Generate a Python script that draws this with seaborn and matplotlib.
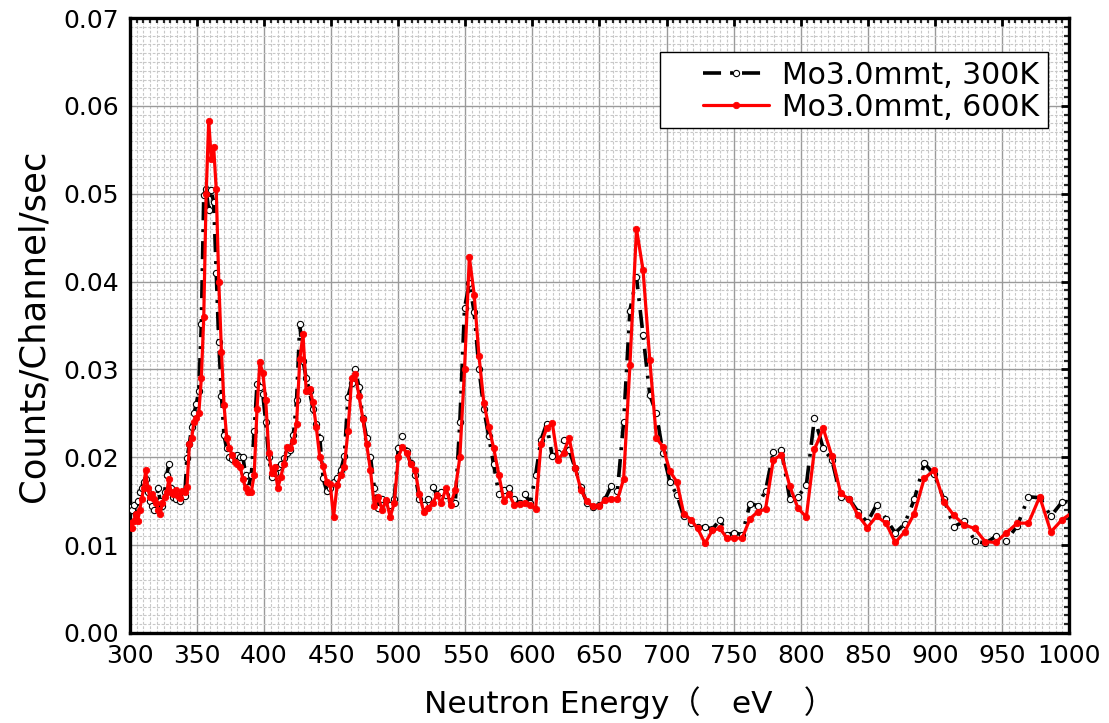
import matplotlib
matplotlib.use("Agg")
import matplotlib.pyplot as plt
from matplotlib.patches import Rectangle
from matplotlib.ticker import MultipleLocator, FormatStrFormatter
import numpy as np
import pandas as pd
import seaborn as sns

# energy of each time-of-flight channel (eV)
energy = [
    300.0, 301.4, 302.9, 304.3, 305.8, 307.2, 308.7, 310.2, 311.7, 313.3,
    314.8, 316.3, 317.9, 319.4, 321.0, 322.5, 324.2, 325.8, 327.4, 329.0,
    330.6, 332.3, 334.0, 335.7, 337.3, 339.0, 340.8, 342.5, 344.3, 346.0,
    347.7, 349.5, 351.3, 353.2, 355.0, 356.8, 358.7, 360.6, 362.4, 364.3,
    366.2, 368.2, 370.1, 372.1, 374.1, 376.0, 378.1, 380.1, 382.2, 384.2,
    386.2, 388.3, 390.5, 392.6, 394.7, 396.8, 399.0, 401.2, 403.5, 405.7,
    407.9, 410.2, 412.5, 414.8, 417.1, 419.4, 421.8, 424.2, 426.6, 429.0,
    431.4, 433.9, 436.4, 438.9, 441.5, 444.0, 446.6, 449.2, 451.8, 454.4,
    457.1, 459.8, 462.5, 465.3, 468.0, 470.7, 473.6, 476.4, 479.3, 482.2,
    485.1, 488.0, 491.0, 494.0, 497.0, 500.0, 503.1, 506.2, 509.4, 512.5,
    515.7, 519.0, 522.3, 525.6, 528.8, 532.1, 535.6, 539.0, 542.5, 545.9,
    549.4, 553.0, 556.6, 560.2, 563.8, 567.4, 571.2, 575.0, 578.8, 582.6,
    586.4, 590.4, 594.4, 598.4, 602.4, 606.4, 610.6, 614.8, 619.0, 623.2,
    627.4, 631.8, 636.2, 640.6, 645.0, 649.4, 654.1, 658.7, 663.4, 668.0,
    672.7, 677.6, 682.5, 687.5, 692.4, 697.3, 702.5, 707.7, 712.8, 718.0,
    723.2, 728.7, 734.2, 739.7, 745.1, 750.6, 756.4, 762.2, 768.0, 773.8,
    779.6, 785.7, 791.9, 798.0, 804.2, 810.3, 816.8, 823.3, 829.8, 836.3,
    842.8, 849.7, 856.6, 863.6, 870.5, 877.4, 884.7, 892.1, 899.4, 906.8,
    914.1, 921.9, 929.7, 937.5, 945.4, 953.2, 961.5, 969.8, 978.2, 986.5,
    994.8, 1003.4,
]

counts_300k = [
    0.0143, 0.0140, 0.0146, 0.0135, 0.0150, 0.0160, 0.0165, 0.0172, 0.0175, 0.0160,
    0.0150, 0.0145, 0.0140, 0.0150, 0.0165, 0.0150, 0.0145, 0.0160, 0.0180, 0.0192,
    0.0165, 0.0155, 0.0152, 0.0158, 0.0150, 0.0158, 0.0156, 0.0199, 0.0215, 0.0235,
    0.0250, 0.0261, 0.0276, 0.0352, 0.0498, 0.0505, 0.0481, 0.0504, 0.0490, 0.0410,
    0.0331, 0.0270, 0.0225, 0.0210, 0.0200, 0.0198, 0.0202, 0.0203, 0.0200, 0.0200,
    0.0180, 0.0166, 0.0180, 0.0230, 0.0283, 0.0280, 0.0272, 0.0240, 0.0200, 0.0178,
    0.0182, 0.0189, 0.0192, 0.0199, 0.0205, 0.0208, 0.0225, 0.0265, 0.0352, 0.0310,
    0.0290, 0.0275, 0.0255, 0.0238, 0.0222, 0.0176, 0.0162, 0.0165, 0.0172, 0.0176,
    0.0185, 0.0201, 0.0269, 0.0285, 0.0300, 0.0280, 0.0245, 0.0222, 0.0200, 0.0165,
    0.0142, 0.0153, 0.0150, 0.0146, 0.0152, 0.0210, 0.0224, 0.0207, 0.0193, 0.0180,
    0.0153, 0.0146, 0.0152, 0.0166, 0.0158, 0.0161, 0.0157, 0.0150, 0.0148, 0.0240,
    0.0370, 0.0398, 0.0365, 0.0300, 0.0255, 0.0224, 0.0192, 0.0158, 0.0163, 0.0165,
    0.0152, 0.0148, 0.0158, 0.0148, 0.0180, 0.0220, 0.0238, 0.0201, 0.0205, 0.0220,
    0.0208, 0.0188, 0.0166, 0.0148, 0.0143, 0.0146, 0.0152, 0.0167, 0.0162, 0.0240,
    0.0367, 0.0405, 0.0339, 0.0271, 0.0250, 0.0205, 0.0172, 0.0157, 0.0133, 0.0125,
    0.0121, 0.0121, 0.0118, 0.0129, 0.0112, 0.0114, 0.0112, 0.0147, 0.0145, 0.0162,
    0.0206, 0.0208, 0.0152, 0.0155, 0.0168, 0.0245, 0.0210, 0.0197, 0.0155, 0.0152,
    0.0138, 0.0126, 0.0146, 0.0130, 0.0114, 0.0124, 0.0152, 0.0193, 0.0181, 0.0152,
    0.0121, 0.0127, 0.0105, 0.0102, 0.0110, 0.0105, 0.0122, 0.0155, 0.0154, 0.0133,
    0.0149, 0.0150,
]

counts_600k = [
    0.0125, 0.0120, 0.0128, 0.0135, 0.0128, 0.0140, 0.0152, 0.0165, 0.0185, 0.0165,
    0.0155, 0.0158, 0.0152, 0.0148, 0.0140, 0.0136, 0.0148, 0.0155, 0.0160, 0.0175,
    0.0160, 0.0158, 0.0163, 0.0156, 0.0154, 0.0162, 0.0160, 0.0166, 0.0215, 0.0222,
    0.0240, 0.0245, 0.0250, 0.0290, 0.0360, 0.0500, 0.0583, 0.0540, 0.0553, 0.0505,
    0.0400, 0.0320, 0.0260, 0.0222, 0.0211, 0.0203, 0.0195, 0.0192, 0.0189, 0.0175,
    0.0165, 0.0161, 0.0161, 0.0180, 0.0255, 0.0308, 0.0296, 0.0265, 0.0205, 0.0182,
    0.0189, 0.0165, 0.0178, 0.0192, 0.0212, 0.0210, 0.0218, 0.0238, 0.0312, 0.0340,
    0.0275, 0.0278, 0.0263, 0.0234, 0.0200, 0.0190, 0.0172, 0.0170, 0.0132, 0.0168,
    0.0180, 0.0189, 0.0230, 0.0290, 0.0295, 0.0270, 0.0244, 0.0215, 0.0185, 0.0144,
    0.0155, 0.0140, 0.0151, 0.0132, 0.0148, 0.0200, 0.0212, 0.0205, 0.0192, 0.0185,
    0.0158, 0.0138, 0.0142, 0.0148, 0.0157, 0.0148, 0.0165, 0.0146, 0.0163, 0.0200,
    0.0300, 0.0428, 0.0385, 0.0315, 0.0262, 0.0235, 0.0210, 0.0180, 0.0150, 0.0158,
    0.0146, 0.0147, 0.0148, 0.0146, 0.0141, 0.0215, 0.0233, 0.0239, 0.0197, 0.0205,
    0.0222, 0.0188, 0.0163, 0.0150, 0.0144, 0.0145, 0.0151, 0.0153, 0.0152, 0.0175,
    0.0305, 0.0460, 0.0413, 0.0311, 0.0222, 0.0212, 0.0184, 0.0172, 0.0136, 0.0129,
    0.0119, 0.0102, 0.0117, 0.0119, 0.0108, 0.0108, 0.0108, 0.0130, 0.0138, 0.0141,
    0.0197, 0.0203, 0.0167, 0.0142, 0.0132, 0.0209, 0.0233, 0.0201, 0.0159, 0.0152,
    0.0134, 0.0120, 0.0133, 0.0125, 0.0103, 0.0115, 0.0136, 0.0176, 0.0185, 0.0149,
    0.0134, 0.0123, 0.0119, 0.0104, 0.0103, 0.0114, 0.0125, 0.0125, 0.0155, 0.0115,
    0.0129, 0.0138,
]

series_labels = ["Mo3.0mmt, 300K", "Mo3.0mmt, 600K"]
x_ticks = np.arange(300, 1001, 50)
y_ticks = np.arange(0.0, 0.0701, 0.01)

df = pd.DataFrame({"energy": energy, "c300": counts_300k, "c600": counts_600k})

sns.set_style("white")
plt.rcParams["font.family"] = ["DejaVu Sans", "Noto Sans CJK JP"]
plt.rcParams["text.color"] = "black"
plt.rcParams["axes.labelcolor"] = "black"

fig = plt.figure(figsize=(11.09, 7.23), dpi=100)
ax = fig.add_axes([0.1172, 0.1245, 0.8467, 0.8506])

sns.lineplot(data=df, x="energy", y="c300", ax=ax, sort=False, color="black",
             linewidth=2.6, linestyle=(0, (5, 2.5, 0.8, 2.5)),
             marker="o", markersize=4.5, markerfacecolor="white",
             markeredgecolor="black", markeredgewidth=0.8,
             label=series_labels[0], zorder=3)
sns.lineplot(data=df, x="energy", y="c600", ax=ax, sort=False, color="#ff0000",
             linewidth=2.3, marker="o", markersize=4.6, markerfacecolor="#ff0000",
             markeredgecolor="#ff0000", markeredgewidth=0.6,
             label=series_labels[1], zorder=4)

ax.set_xlim(300, 1000)
ax.set_ylim(0, 0.07)
ax.set_xticks(x_ticks)
ax.set_yticks(y_ticks)
ax.yaxis.set_major_formatter(FormatStrFormatter("%.2f"))
ax.xaxis.set_minor_locator(MultipleLocator(5))
ax.yaxis.set_minor_locator(MultipleLocator(0.001))

ax.grid(which="major", color="#9a9a9a", linewidth=1.0, linestyle="-")
ax.grid(which="minor", color="#c8c8c8", linewidth=0.8, linestyle=(0, (2.5, 1.5)))
ax.set_axisbelow(True)

for s in ax.spines.values():
    s.set_linewidth(2.4)
    s.set_color("black")
ax.tick_params(which="major", direction="in", length=6, width=2.0,
               top=True, right=True, labelsize=18, pad=8, colors="black")
ax.tick_params(which="minor", direction="in", length=3.5, width=1.6,
               top=True, right=True)

ax.set_xlabel("Neutron Energy（\u3000eV\u3000）", fontsize=22.5)
ax.xaxis.set_label_coords(0.532, -0.087)
ax.set_ylabel("Counts/Channel/sec", fontsize=25.5, labelpad=9)

# legend box drawn separately so its left margin matches the original
ax.add_patch(Rectangle((0.5644, 0.8211), 0.4132, 0.1236, transform=ax.transAxes,
                       facecolor="white", edgecolor="black", linewidth=1.0,
                       zorder=6))
leg = ax.legend(loc="upper right", bbox_to_anchor=(0.978, 0.945), fontsize=21.5,
                frameon=False, handlelength=2.2, handletextpad=0.45,
                borderpad=0.3, labelspacing=0.1, borderaxespad=0)
leg.set_zorder(7)
for t in leg.get_texts():
    t.set_color("black")

fig.savefig("out.png", dpi=100)
